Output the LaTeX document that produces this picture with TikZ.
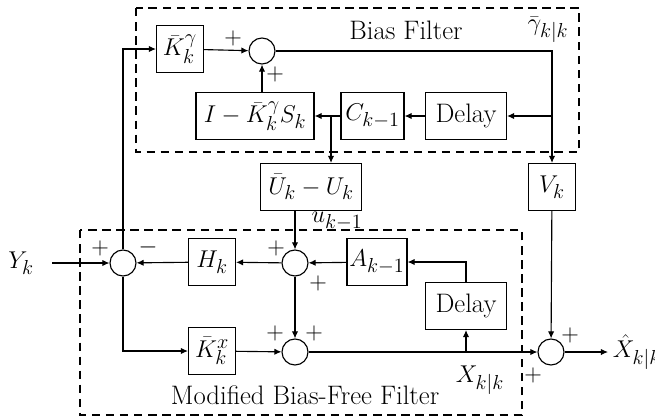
\documentclass[tikz,border=0pt]{standalone}
\usetikzlibrary{positioning,arrows.meta,calc}

\begin{document}
\begin{tikzpicture}[x=0.025cm, y=-0.025cm, font=\fontsize{19}{22}\selectfont, every node/.style={align=center}]
\tikzset{
  box/.style={draw, thick, inner sep=0pt, minimum width=1.175cm, minimum height=1.175cm},
  sumc/.style={draw, thick, circle, inner sep=0pt, minimum size=0.65cm},
  arr/.style={-{Latex[length=5pt,width=4.5pt]}, thick},
  frame/.style={draw, dashed, thick, dash pattern=on 6pt off 4pt}
}
  \useasboundingbox (0,0) rectangle (655,417);
  % dashed frames
  \draw[frame] (136,8) rectangle (579,152);
  \draw[frame] (80,230) rectangle (522,415);
  \node (bias) at (406,30) {Bias Filter};
  \node (mbf) at (305,395) {Modified Bias-Free Filter};

  % bias filter
  \node[box] (kg) at (180,49) {$\bar{K}_k^{\gamma}$};
  \node[sumc] (sum1) at (262,51) {};
  \node[box, minimum width=2.95cm] (iks) at (255,116) {$I-\bar{K}_k^{\gamma}S_k$};
  \node[box, minimum width=1.575cm] (cprev) at (372.5,116) {$C_{k-1}$};
  \node[box, minimum width=2.025cm] (delay1) at (466,116) {Delay};
  \node (gam) at (548,30) {$\bar{\gamma}_{k|k}$};

  \node[box, minimum width=2.525cm] (uu) at (311,187) {$\bar{U}_k-U_k$};
  \node[inner sep=1pt] (ulbl) at (337,221) {$u_{k-1}$};
  \node[box] (vk) at (552,187) {$V_k$};

  % bias-free filter
  \node (yk) at (21,263) {$Y_k$};
  \node[sumc] (sum3) at (123,263) {};
  \node[box] (hk) at (212,262) {$H_k$};
  \node[sumc] (sum2) at (295,263) {};
  \node[box, minimum width=1.5cm] (ak) at (377,262) {$A_{k-1}$};
  \node[box, minimum width=2.025cm] (delay2) at (466,306) {Delay};
  \node[box] (kx) at (212,351) {$\bar{K}_k^{x}$};
  \node[sumc] (sum4) at (295,352) {};
  \node (xlbl) at (480,380) {$X_{k|k}$};
  \node[sumc] (sum5) at (551,352) {};
  \node[anchor=west] (xhat) at (608,352) {$\hat{X}_{k|k}$};

  % signs
  \node at (233,38) {$+$};
  \node at (275,74) {$+$};
  \node at (100,248) {$+$};
  \node at (148,247) {$-$};
  \node at (276,248) {$+$};
  \node at (318,283) {$+$};
  \node at (275,333) {$+$};
  \node at (314,333) {$+$};
  \node at (570,335) {$+$};
  \node at (533,375) {$+$};

  % connectors
  \coordinate (gtap) at (552,116);
  \coordinate (utap) at (331,116);
  \coordinate (yin) at (52,263);
  \draw[arr] (kg) -- (sum1);
  \draw[arr] (sum1) -| (vk);
  \draw[arr] (gtap) -- (delay1);
  \draw[arr] (delay1) -- (cprev);
  \draw[arr] (cprev) -- (iks);
  \draw[arr] (sum1 |- iks.north) -- (sum1);
  \draw[arr] (utap) -- (utap |- uu.north);
  \draw[arr] (sum3) |- (kg);
  \draw[arr] (yin) -- (sum3);
  \draw[arr] (hk) -- (sum3);
  \draw[arr] (sum2) -- (hk);
  \draw[arr] (ak) -- (sum2);
  \draw[arr] (sum2 |- uu.south) -- (sum2);
  \draw[arr] (delay2) |- (ak);
  \draw[arr] (sum2) -- (sum4);
  \draw[arr] (sum3) |- (kx);
  \draw[arr] (kx) -- (sum4);
  \draw[arr] (sum4) -- (sum5);
  \draw[arr] (delay2 |- sum4) -- (delay2);
  \draw[arr] (vk) -- (sum5);
  \draw[arr] (sum5) -- (xhat);
\end{tikzpicture}
\end{document}
